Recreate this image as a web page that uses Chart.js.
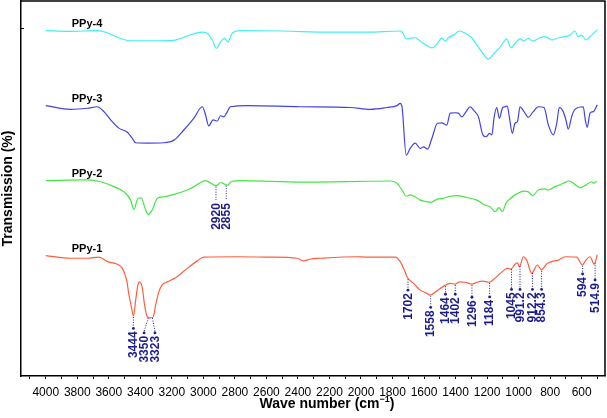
<!DOCTYPE html>
<html>
<head>
<meta charset="utf-8">
<script src="https://cdn.jsdelivr.net/npm/chart.js@4.4.1/dist/chart.umd.min.js"></script>
<style>
  html, body { margin: 0; padding: 0; background: #fff; }
  #wrap { width: 607px; height: 418px; }
</style>
</head>
<body>
<div id="wrap"><canvas id="ftir" width="607" height="418"></canvas></div>
<script>
// FTIR spectra, [wavenumber (cm-1), offset transmission]
const ppy4 = [
  [4000, 92.1], [3850, 91.9], [3672, 92.1], [3461, 89.4], [3300, 89.4], [3189, 89.5],
  [3100, 90.7], [3007, 91.7], [2976, 91.4], [2944, 89.6], [2917, 87.4], [2891, 89.1],
  [2866, 90.1], [2845, 89.1], [2817, 91.4], [2765, 92.1], [2500, 92.0], [2200, 91.7],
  [1962, 91.7], [1751, 92.0], [1740, 91.8], [1713, 89.9], [1688, 90.1], [1656, 90.2],
  [1624, 89.3], [1582, 88.1], [1550, 87.5], [1519, 88.5], [1487, 90.1], [1466, 89.3],
  [1445, 90.2], [1413, 90.9], [1375, 92.0], [1339, 91.4], [1297, 90.2], [1265, 88.3],
  [1223, 85.8], [1192, 84.5], [1160, 85.8], [1122, 87.5], [1101, 88.7], [1076, 89.9],
  [1048, 87.5], [1023, 88.7], [991, 89.9], [966, 89.3], [938, 90.1], [911, 89.3],
  [864, 90.2], [832, 90.5], [790, 89.6], [747, 90.2], [706, 90.5], [674, 90.9],
  [643, 92.0], [622, 90.5], [600, 90.9], [573, 89.6], [547, 90.5], [501, 92.3]
];
const ppy3 = [
  [4000, 72.1], [3842, 71.1], [3736, 71.4], [3673, 71.8], [3631, 70.5], [3588, 68.3],
  [3536, 66.1], [3482, 65.0], [3451, 63.4], [3430, 62.2], [3356, 62.1], [3251, 62.2],
  [3187, 62.9], [3124, 65.6], [3061, 68.7], [3007, 71.8], [2986, 69.6], [2966, 66.7],
  [2938, 68.3], [2912, 68.0], [2891, 69.4], [2870, 69.1], [2853, 70.1], [2828, 71.8],
  [2722, 72.1], [2385, 71.8], [2068, 71.6], [1941, 71.1], [1835, 71.6], [1772, 72.1],
  [1751, 72.7], [1740, 71.8], [1713, 58.9], [1688, 60.7], [1656, 62.1], [1624, 60.7],
  [1603, 61.1], [1578, 60.5], [1550, 63.4], [1515, 67.4], [1487, 67.5], [1456, 66.9],
  [1434, 70.1], [1403, 70.2], [1382, 70.1], [1360, 69.1], [1333, 70.5], [1308, 71.8],
  [1282, 70.7], [1255, 69.1], [1227, 64.3], [1206, 63.8], [1185, 64.7], [1170, 64.3],
  [1155, 69.1], [1139, 71.6], [1122, 68.7], [1101, 71.6], [1086, 71.8], [1072, 72.0],
  [1059, 69.1], [1040, 64.7], [1023, 67.4], [1008, 67.8], [991, 71.8], [966, 70.5],
  [938, 69.0], [907, 70.5], [875, 71.8], [839, 71.6], [811, 66.9], [780, 64.3],
  [758, 67.4], [742, 71.6], [717, 70.5], [700, 68.3], [685, 65.8], [664, 69.1],
  [643, 71.1], [590, 71.8], [577, 68.3], [565, 66.3], [547, 70.1], [526, 70.5], [501, 72.3]
];
const ppy2 = [
  [4000, 52.1], [3736, 52.3], [3652, 51.8], [3567, 50.5], [3504, 49.1], [3461, 46.9],
  [3441, 44.4], [3415, 47.4], [3394, 47.5], [3373, 45.1], [3350, 43.1], [3324, 44.3],
  [3292, 47.4], [3251, 47.8], [3166, 48.7], [3081, 50.0], [3018, 51.6], [2986, 52.1],
  [2944, 51.2], [2917, 50.7], [2891, 51.6], [2866, 51.2], [2845, 50.9], [2824, 51.8],
  [2765, 52.1], [2385, 51.7], [1814, 52.0], [1772, 51.4], [1740, 49.6], [1713, 48.0],
  [1688, 48.3], [1656, 47.8], [1624, 46.9], [1582, 46.5], [1557, 46.3], [1519, 47.1],
  [1477, 47.4], [1445, 47.8], [1392, 48.1], [1329, 47.6], [1265, 46.9], [1213, 45.6],
  [1181, 45.1], [1149, 43.8], [1124, 44.9], [1103, 43.8], [1080, 46.1], [1050, 47.4],
  [1023, 48.3], [991, 49.0], [966, 49.3], [938, 49.1], [911, 48.1], [875, 49.6],
  [832, 49.9], [811, 49.6], [769, 50.5], [717, 51.4], [679, 52.0], [643, 51.1],
  [611, 50.2], [573, 50.9], [537, 51.8], [522, 51.4], [505, 52.0]
];
const ppy1 = [
  [4000, 32.1], [3842, 31.4], [3736, 31.4], [3662, 31.7], [3609, 30.5], [3546, 29.8],
  [3514, 28.7], [3487, 25.6], [3472, 21.6], [3455, 18.1], [3444, 16.0], [3428, 20.7],
  [3415, 24.3], [3403, 25.1], [3387, 23.4], [3373, 18.9], [3356, 15.8], [3335, 15.5],
  [3318, 15.8], [3303, 18.9], [3282, 22.5], [3261, 24.3], [3229, 25.1], [3176, 26.2],
  [3102, 28.7], [3039, 30.7], [2997, 31.7], [2786, 31.8], [2575, 31.7], [2406, 31.4],
  [2364, 30.7], [2321, 31.2], [2258, 31.4], [2025, 31.8], [1962, 31.7], [1783, 31.7],
  [1751, 30.5], [1726, 28.3], [1705, 26.2], [1667, 24.7], [1624, 22.9], [1586, 22.1],
  [1561, 21.6], [1519, 22.7], [1470, 24.1], [1434, 24.7], [1403, 24.5], [1375, 25.1],
  [1339, 25.0], [1297, 24.5], [1265, 25.0], [1227, 25.3], [1187, 25.0], [1149, 26.1],
  [1107, 27.7], [1072, 28.7], [1050, 28.5], [1023, 29.8], [1008, 30.2], [995, 29.1],
  [970, 31.8], [949, 30.9], [917, 27.4], [881, 29.6], [854, 28.3], [822, 29.9],
  [790, 30.5], [747, 30.9], [706, 31.8], [632, 31.7], [596, 29.6], [573, 30.9],
  [547, 31.8], [520, 29.8], [501, 32.3]
];

const seriesNames = ['PPy-1', 'PPy-2', 'PPy-3', 'PPy-4'];
const seriesColors = ['#ff5e3e', '#44e644', '#4242e4', '#44eef2'];
const spectra = [ppy1, ppy2, ppy3, ppy4];

const xRange = [452, 4157];
const yRange = [0, 100];
// tick marks every 100 cm-1, labelled every 200
const xTicks = [4100, 4000, 3900, 3800, 3700, 3600, 3500, 3400, 3300, 3200, 3100, 3000,
  2900, 2800, 2700, 2600, 2500, 2400, 2300, 2200, 2100, 2000, 1900, 1800, 1700, 1600,
  1500, 1400, 1300, 1200, 1100, 1000, 900, 800, 700, 600, 500];
const yTicks = [92.8];

// marked peaks: label, series index, wavenumber on curve, wavenumber of label, level of the label end
const peakText   = ['3444', '3350', '3323', '2920', '2855', '1702', '1558', '1464', '1402', '1296', '1184', '1045', '991.2', '912.2', '854.3', '594', '514.9'];
const peakSeries = [0, 0, 0, 1, 1, 0, 0, 0, 0, 0, 0, 0, 0, 0, 0, 0, 0];
const peakWn     = [3444, 3350, 3323, 2920, 2855, 1702, 1558, 1464, 1402, 1296, 1184, 1045, 991.2, 912.2, 854.3, 594, 514.9];
const peakLabelWn = [3444, 3376, 3307, 2920, 2855, 1702, 1558, 1464, 1402, 1296, 1184, 1045, 991.2, 912.2, 854.3, 594, 514.9];
const peakLabelT = [12.7, 11.5, 11.5, 46.9, 46.9, 22.9, 18.3, 21.8, 21.8, 21.0, 21.1, 23.1, 23.1, 23.1, 23.1, 27.2, 25.6];
const peakDot    = [true, true, true, false, false, true, true, true, true, true, true, true, true, true, true, true, true];

const FONT = '"Liberation Sans", Arial, Helvetica, sans-serif';
const NAVY = '#1b1b8e';

function valueAt(series, wn) {
  for (let i = 0; i < series.length - 1; i++) {
    const [w0, t0] = series[i], [w1, t1] = series[i + 1];
    if (wn <= w0 && wn >= w1) return t0 + (t1 - t0) * (w0 - wn) / (w0 - w1);
  }
  return series[series.length - 1][1];
}

const decorations = {
  id: 'decorations',
  afterDatasetsDraw(chart) {
    const { ctx, chartArea: a, scales: { x, y } } = chart;
    ctx.save();

    // close the frame
    ctx.strokeStyle = '#000';
    ctx.lineWidth = 1.5;
    ctx.beginPath();
    ctx.moveTo(a.left, a.top);
    ctx.lineTo(a.right, a.top);
    ctx.lineTo(a.right, a.bottom);
    ctx.stroke();

    // sample names
    ctx.fillStyle = '#000';
    ctx.font = 'bold 11px ' + FONT;
    ctx.textAlign = 'left';
    ctx.textBaseline = 'alphabetic';
    spectra.forEach((s, i) => {
      ctx.fillText(seriesNames[i], x.getPixelForValue(s[0][0]) + 26, y.getPixelForValue(s[0][1]) - 4);
    });

    // peak markers
    ctx.strokeStyle = NAVY;
    ctx.fillStyle = NAVY;
    ctx.lineWidth = 1;
    ctx.font = 'bold 12px ' + FONT;
    peakText.forEach((txt, i) => {
      const s = spectra[peakSeries[i]];
      const x0 = x.getPixelForValue(peakWn[i]);
      const y0 = y.getPixelForValue(valueAt(s, peakWn[i]));
      const x1 = x.getPixelForValue(peakLabelWn[i]);
      const y1 = y.getPixelForValue(peakLabelT[i]);
      ctx.setLineDash([1, 1.5]);
      ctx.beginPath();
      ctx.moveTo(x0, y0 + 1);
      ctx.lineTo(x1, y1 - (peakDot[i] ? 1.5 : 0));
      ctx.stroke();
      ctx.setLineDash([]);
      if (peakDot[i]) {
        ctx.beginPath();
        ctx.arc(x1, y1, 1.4, 0, Math.PI * 2);
        ctx.fill();
      }
      ctx.save();
      ctx.translate(x1 + 0.5, y1 + 3);
      ctx.rotate(-Math.PI / 2);
      ctx.textAlign = 'right';
      ctx.textBaseline = 'middle';
      ctx.fillText(txt, 0, 0);
      ctx.restore();
    });

    // x axis title with superscript
    const main = 'Wave number (cm';
    const sup = '\u22121';
    const tail = ')';
    ctx.fillStyle = '#000';
    ctx.textAlign = 'left';
    ctx.textBaseline = 'alphabetic';
    ctx.font = 'bold 14px ' + FONT;
    const wMain = ctx.measureText(main).width;
    const wTail = ctx.measureText(tail).width;
    ctx.font = 'bold 9px ' + FONT;
    const wSup = ctx.measureText(sup).width;
    const total = wMain + wSup + wTail;
    const cx = (a.left + a.right) / 2 + 14;
    let tx = cx - total / 2;
    const ty = a.bottom + 32;
    ctx.font = 'bold 14px ' + FONT;
    ctx.fillText(main, tx, ty);
    tx += wMain;
    ctx.font = 'bold 9px ' + FONT;
    ctx.fillText(sup, tx, ty - 6);
    tx += wSup;
    ctx.font = 'bold 14px ' + FONT;
    ctx.fillText(tail, tx, ty);

    ctx.restore();
  }
};

new Chart(document.getElementById('ftir'), {
  type: 'line',
  data: {
    datasets: spectra.map((s, i) => ({
      label: seriesNames[i],
      data: s.map(([w, t]) => ({ x: w, y: t })),
      borderColor: seriesColors[i],
      borderWidth: 1.2,
      pointRadius: 0,
      fill: false,
      cubicInterpolationMode: 'monotone'
    }))
  },
  options: {
    responsive: false,
    animation: false,
    devicePixelRatio: 1,
    layout: { padding: { top: 1, right: 2, left: 0, bottom: 0 } },
    plugins: {
      legend: { display: false },
      tooltip: { enabled: false },
      title: { display: false }
    },
    scales: {
      x: {
        type: 'linear',
        reverse: true,
        min: xRange[0],
        max: xRange[1],
        afterBuildTicks: s => { s.ticks = xTicks.map(v => ({ value: v })); },
        afterFit: s => { s.height = 42; },
        border: { display: true, color: '#000', width: 1.5 },
        grid: { drawOnChartArea: false, drawTicks: true, tickLength: 3, color: '#000' },
        ticks: {
          autoSkip: false,
          maxRotation: 0,
          minRotation: 0,
          padding: 6,
          color: '#000',
          font: { family: FONT, size: 12 },
          callback: v => (Math.round(v) % 200 === 0 ? String(Math.round(v)) : '')
        }
      },
      y: {
        min: yRange[0],
        max: yRange[1],
        afterBuildTicks: s => { s.ticks = yTicks.map(v => ({ value: v })); },
        afterFit: s => { s.width = 21; },
        border: { display: true, color: '#000', width: 1.5 },
        grid: { drawOnChartArea: false, drawTicks: true, tickLength: -3, color: '#000' },
        ticks: { display: false },
        title: {
          display: true,
          text: 'Transmission (%)',
          color: '#000',
          font: { family: FONT, size: 14, weight: 'bold' },
          padding: { top: 0, bottom: 0 }
        }
      }
    }
  },
  plugins: [decorations]
});
</script>
</body>
</html>
